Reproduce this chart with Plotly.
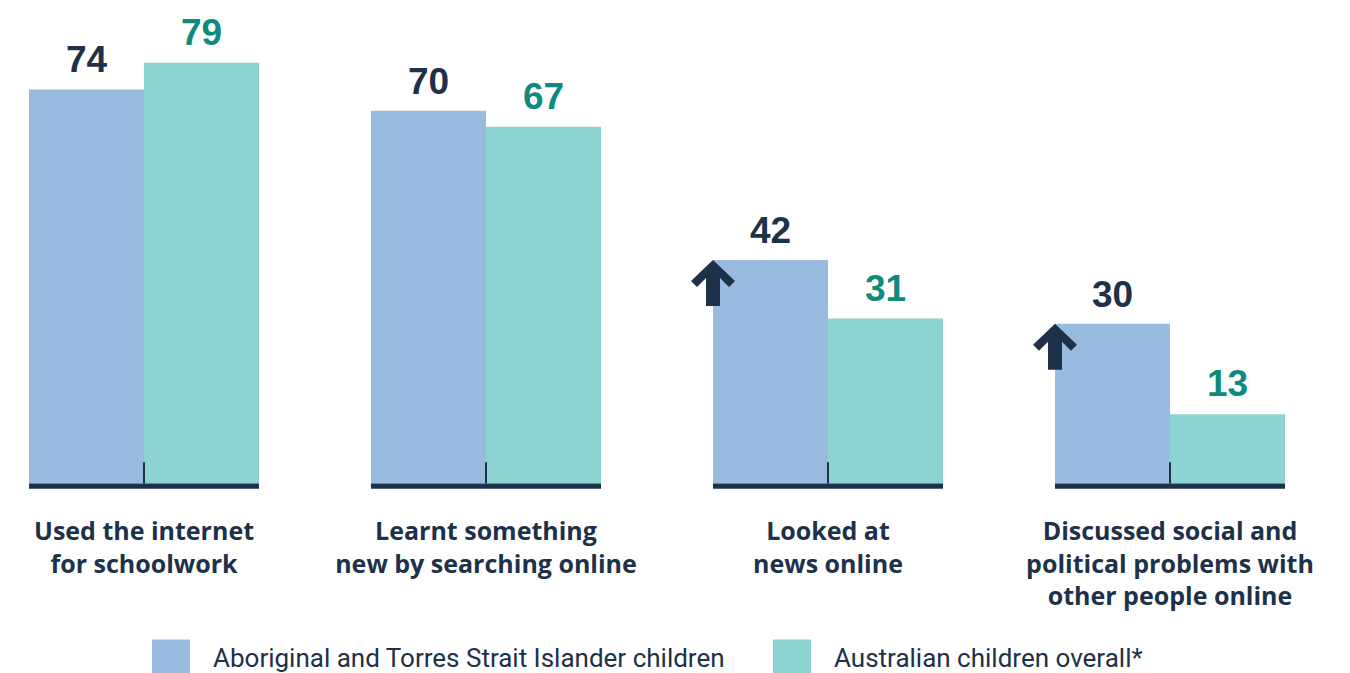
import plotly.graph_objects as go

categories = [
    "Used the internet<br>for schoolwork",
    "Learnt something<br>new by searching online",
    "Looked at<br>news online",
    "Discussed social and<br>political problems with<br>other people online",
]
series_names = ["Aboriginal and Torres Strait Islander children", "Australian children overall*"]
indigenous = [74, 70, 42, 30]
overall = [79, 67, 31, 13]
significant_higher = [False, False, True, True]

BLUE = "#99bbdf"
TEAL = "#8dd3d1"
NAVY = "#1d3149"
TEAL_TEXT = "#0e8a7e"

W, H = 1350, 673
PLOT_H = 490.4  # plot area height in px (y=0 sits at 484 px)

x = list(range(len(categories)))
bargap = 0.3275
bw = (1 - bargap) / 2  # width of each bar in axis units

fig = go.Figure()
fig.add_trace(go.Bar(x=x, y=indigenous, name=series_names[0], marker=dict(color=BLUE, line=dict(width=0)),
                     showlegend=False, hoverinfo="skip"))
fig.add_trace(go.Bar(x=x, y=overall, name=series_names[1], marker=dict(color=TEAL, line=dict(width=0)),
                     showlegend=False, hoverinfo="skip"))

annotations = []
shapes = []
for i in x:
    annotations.append(dict(x=i - bw / 2, y=indigenous[i], xref="x", yref="y", text=str(indigenous[i]),
                            showarrow=False, yanchor="bottom", yshift=7,
                            font=dict(family="Liberation Sans, Arial", size=37, color=NAVY, weight="bold")))
    annotations.append(dict(x=i + bw / 2, y=overall[i], xref="x", yref="y", text=str(overall[i]),
                            showarrow=False, yanchor="bottom", yshift=8,
                            font=dict(family="Liberation Sans, Arial", size=37, color=TEAL_TEXT, weight="bold")))
    # baseline segment
    shapes.append(dict(type="rect", xref="x", yref="y", x0=i - bw, x1=i + bw, y0=0, y1=-0.95,
                       fillcolor=NAVY, line=dict(width=0), layer="above"))
    # centre tick
    shapes.append(dict(type="line", xref="x", yref="y", x0=i, x1=i, y0=0, y1=4,
                       line=dict(color=NAVY, width=2), layer="above"))
    if significant_higher[i]:
        shapes.append(dict(type="path", xref="x", yref="y", xsizemode="pixel", ysizemode="pixel",
                           xanchor=i - bw, yanchor=indigenous[i],
                           path="M0,0 L22,-21 L16,-27 L7,-18 L7,-46 L-7,-46 L-7,-18 L-16,-27 L-22,-21 Z",
                           fillcolor=NAVY, line=dict(width=0), layer="above"))

# legend (drawn manually to match the large swatches)
legend_items = [(series_names[0], BLUE, 152), (series_names[1], TEAL, 773)]
for name, col, px in legend_items:
    shapes.append(dict(type="rect", xref="paper", yref="paper",
                       x0=px / W, x1=(px + 38) / W,
                       y0=(PLOT_H - 676) / PLOT_H, y1=(PLOT_H - 640) / PLOT_H,
                       fillcolor=col, line=dict(width=0)))
    annotations.append(dict(xref="paper", yref="paper", x=(px + 59) / W, y=(PLOT_H - 659) / PLOT_H,
                            text=name, showarrow=False, xanchor="left", yanchor="middle",
                            font=dict(family="Roboto", size=26, color=NAVY)))

fig.update_layout(
    width=W, height=H,
    margin=dict(l=0, r=0, t=0, b=H - PLOT_H, pad=0),
    paper_bgcolor="white", plot_bgcolor="white",
    barmode="group", bargap=bargap, bargroupgap=0,
    xaxis=dict(range=[-144 / 342, 3 + 180 / 342], tickmode="array", tickvals=x, ticktext=categories,
               showgrid=False, zeroline=False, showline=False, ticks="",
               ticklabelstandoff=24,
               tickfont=dict(family="Open Sans", size=25, color=NAVY, weight="bold")),
    yaxis=dict(range=[-1.2, 90.8], visible=False, showgrid=False, zeroline=False),
    annotations=annotations,
    shapes=shapes,
    showlegend=False,
)

fig.write_html("out.html", config={"displayModeBar": False},
               post_script="document.body.style.margin='0';document.body.style.overflow='hidden';")
